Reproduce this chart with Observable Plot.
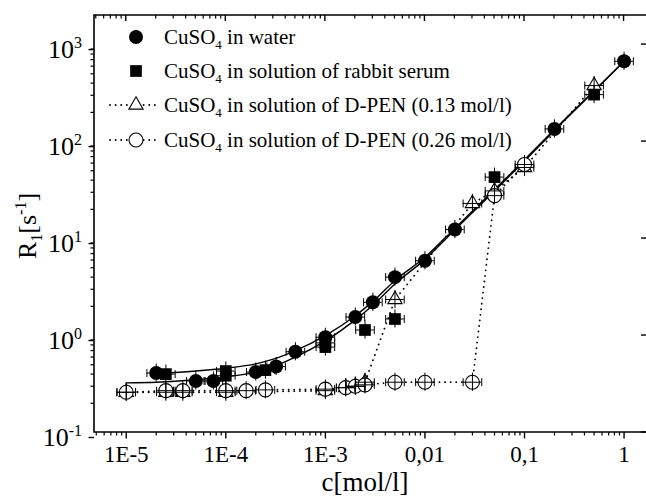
<!DOCTYPE html>
<html><head><meta charset="utf-8">
<script src="https://cdn.jsdelivr.net/npm/d3@7"></script>
<script src="https://cdn.jsdelivr.net/npm/@observablehq/plot@0.6"></script>
<style>
body{margin:0;background:#fff;overflow:hidden;}
#chart{width:646px;height:497px;}
svg{font-family:"Liberation Serif","Times New Roman",serif;}
</style></head><body><div id="chart"></div>
<script>
// ---------- data ----------
const waterC = [2e-5, 5e-5, 7.5e-5, 2e-4, 3.2e-4, 5e-4, 1e-3, 2e-3, 3e-3, 5e-3, 1e-2, 2e-2, 0.2, 1];
const waterR = [0.41, 0.34, 0.34, 0.42, 0.48, 0.68, 0.96, 1.55, 2.2, 4.0, 5.9, 12.4, 135, 673];
const serumC = [2.5e-5, 1e-4, 1e-4, 2.5e-4, 1e-3, 1e-3, 2.5e-3, 5e-3, 0.05, 0.5];
const serumR = [0.40, 0.385, 0.43, 0.44, 0.76, 0.84, 1.14, 1.48, 43, 305];
const pen13C = [1e-5, 2.5e-5, 3.7e-5, 1e-4, 1e-3, 1.6e-3, 2e-3, 2.5e-3, 5e-3, 0.03, 0.05, 0.1, 0.5];
const pen13R = [0.26, 0.26, 0.26, 0.26, 0.27, 0.29, 0.30, 0.33, 2.35, 23, 31, 54, 378];
const pen26C = [1e-5, 2.5e-5, 3.7e-5, 1e-4, 1.6e-4, 2.5e-4, 1e-3, 1.6e-3, 2e-3, 2.5e-3, 5e-3, 0.01, 0.03, 0.05, 0.1];
const pen26R = [0.26, 0.27, 0.27, 0.27, 0.27, 0.275, 0.28, 0.29, 0.30, 0.31, 0.33, 0.33, 0.33, 27.7, 58];
// fitted curves, read as points along the drawn lines
const fitUpperC = [2.5e-5, 5e-5, 1e-4, 2e-4, 3e-4, 5e-4, 1e-3, 2e-3, 3e-3, 5e-3, 1e-2, 2e-2, 5e-2, 0.1, 0.2, 0.5, 1];
const fitUpperR = [0.41, 0.43, 0.46, 0.51, 0.57, 0.70, 1.0, 1.6, 2.25, 3.7, 6.4, 12.8, 32, 65, 133, 335, 673];
const fitLowerC = [1e-5, 2e-5, 5e-5, 1e-4, 2e-4, 3e-4, 5e-4, 1e-3, 2e-3, 3e-3, 5e-3, 1e-2, 2e-2, 5e-2, 0.1, 0.2, 0.5, 1];
const fitLowerR = [0.325, 0.33, 0.35, 0.375, 0.42, 0.48, 0.60, 0.88, 1.45, 2.05, 3.4, 6.1, 12.3, 31, 63, 130, 330, 673];
// axes
const xTicks = [1e-5, 1e-4, 1e-3, 1e-2, 1e-1, 1];
const xTickLabels = ["1E-5", "1E-4", "1E-3", "0,01", "0,1", "1"];
const yTicks = [0.1, 1, 10, 100, 1000];
const yTickExp = ["-1", "0", "1", "2", "3"];
const xDomain = [4.8e-6, 1.68];
const yDomain = [0.1, 1995];
const seriesNames = ["CuSO4 in water", "CuSO4 in solution of rabbit serum",
  "CuSO4 in solution of D-PEN (0.13 mol/l)", "CuSO4 in solution of D-PEN (0.26 mol/l)"];

// ---------- build tables ----------
const zip = (C, R) => C.map((c, i) => ({c, R: R[i]}));
const water = zip(waterC, waterR), serum = zip(serumC, serumR);
const pen13 = zip(pen13C, pen13R), pen26 = zip(pen26C, pen26R);
const fitU = zip(fitUpperC, fitUpperR), fitL = zip(fitLowerC, fitLowerR);
const allPts = [...water, ...serum, ...pen13, ...pen26];

const minorOf = (lo, hi) => { const out = []; for (let e = lo; e <= hi; e++) for (let k = 2; k <= 9; k++) out.push(k * Math.pow(10, e)); return out; };
const xMinor = minorOf(-6, 0).filter(v => v >= xDomain[0] && v <= xDomain[1]);
const yMinor = minorOf(-1, 3).filter(v => v >= yDomain[0] && v <= yDomain[1]);

const ex = 1.24, ey = 1.24;
const capSym = {draw(ctx, size) { const h = Math.sqrt(size) / 2; ctx.moveTo(0, -h); ctx.lineTo(0, h); }};
const font = '"Liberation Serif","Times New Roman",serif';

const plot = Plot.plot({
  width: 646, height: 497,
  marginLeft: 94, marginRight: 0, marginTop: 15, marginBottom: 65,
  style: {fontFamily: font, background: "white", color: "black"},
  x: {type: "log", domain: xDomain},
  y: {type: "log", domain: yDomain},
  marks: [
    Plot.axisX({ticks: xMinor, tickSize: 3.5, tickFormat: () => "", label: null, strokeWidth: 1.2}),
    Plot.axisX({ticks: xTicks, tickSize: 6.5, tickPadding: 7, fontSize: 23, label: null, strokeWidth: 1.4,
      tickFormat: d => xTickLabels[xTicks.indexOf(d)]}),
    Plot.axisY({ticks: yMinor, tickSize: 3.5, tickFormat: () => "", label: null, strokeWidth: 1.2}),
    Plot.axisY({ticks: yTicks, tickSize: 5.5, tickPadding: 7, fontSize: 26, label: null, strokeWidth: 1.4, dy: 5,
      tickFormat: d => "10|" + yTickExp[yTicks.indexOf(d)]}),
    Plot.line(fitL, {x: "c", y: "R", curve: "monotone-x", stroke: "black", strokeWidth: 1.4}),
    Plot.line(fitU, {x: "c", y: "R", curve: "monotone-x", stroke: "black", strokeWidth: 1.4}),
    Plot.line(pen13, {x: "c", y: "R", stroke: "black", strokeWidth: 1.8, strokeDasharray: "0.1,5.5", strokeLinecap: "round"}),
    Plot.line(pen26, {x: "c", y: "R", stroke: "black", strokeWidth: 1.8, strokeDasharray: "0.1,5.5", strokeLinecap: "round"}),
    Plot.dot(pen13, {x: "c", y: "R", symbol: "triangle", r: 5.3, fill: "white", stroke: "black", strokeWidth: 1.1}),
    Plot.dot(pen26, {x: "c", y: "R", symbol: "circle", r: 7, fill: "white", stroke: "black", strokeWidth: 1.1}),
    Plot.dot(water, {x: "c", y: "R", symbol: "circle", r: 7, fill: "black"}),
    Plot.dot(serum, {x: "c", y: "R", symbol: "square", r: 6.6, fill: "black"}),
    Plot.ruleY(allPts, {y: "R", x1: d => d.c / ex, x2: d => d.c * ex, stroke: "black", strokeWidth: 1}),
    Plot.ruleX(allPts, {x: "c", y1: d => d.R / ey, y2: d => d.R * ey, stroke: "black", strokeWidth: 1}),
    Plot.dot(allPts, {x: d => d.c / ex, y: "R", symbol: capSym, r: 4.5, stroke: "black", strokeWidth: 1}),
    Plot.dot(allPts, {x: d => d.c * ex, y: "R", symbol: capSym, r: 4.5, stroke: "black", strokeWidth: 1})
  ]
});
document.getElementById("chart").appendChild(plot);

// ---------- post-processing: superscripts, frame, inward ticks, labels, legend ----------
const svg = d3.select(plot);
svg.selectAll('g[aria-label="y-axis tick label"] text').each(function() {
  const t = d3.select(this);
  const s = t.text();
  if (!s.includes("|")) return;
  const [base, sup] = s.split("|");
  t.text(null);
  t.append("tspan").text(base);
  t.append("tspan").attr("font-size", 16).attr("dy", "-10").text(sup);
});

const sx = plot.scale("x"), sy = plot.scale("y");
const [x0, x1] = sx.range, [y0, y1] = sy.range; // y0 bottom, y1 top
const g = svg.append("g").attr("stroke", "black").attr("fill", "none");
// frame: left, bottom, top (right edge lies just outside the picture)
g.append("path").attr("d", `M${x1 + 3},${y1}H${x0}V${y0}H${x1 + 3}`).attr("stroke-width", 1.6);
xMinor.forEach(v => { const X = sx.apply(v); g.append("line").attr("x1", X).attr("x2", X).attr("y1", y1).attr("y2", y1 + 3.5).attr("stroke-width", 1.2); });
xTicks.forEach(v => { const X = sx.apply(v); g.append("line").attr("x1", X).attr("x2", X).attr("y1", y1).attr("y2", y1 + 6).attr("stroke-width", 1.4); });
yTicks.forEach(v => { const Y = sy.apply(v); g.append("line").attr("x1", x1).attr("x2", x1 - 5).attr("y1", Y).attr("y2", Y).attr("stroke-width", 1.4); });

// axis titles
svg.append("text").attr("x", 365).attr("y", 491).attr("text-anchor", "middle")
  .attr("font-size", 27).attr("font-family", font).attr("fill", "black").text("c[mol/l]");
const yl = svg.append("text").attr("transform", "translate(36,226) rotate(-90)").attr("text-anchor", "middle")
  .attr("font-size", 26).attr("font-family", font).attr("fill", "black");
yl.append("tspan").text("R");
yl.append("tspan").attr("font-size", 16).attr("dy", 6).text("1");
yl.append("tspan").attr("dy", -6).text("[s");
yl.append("tspan").attr("font-size", 16).attr("dy", -10).text("-1");
yl.append("tspan").attr("dy", 10).text("]");

// legend
const legY = [37, 71, 105, 140];
const legSyms = [
  {type: d3.symbolCircle, size: Math.PI * 49, fill: "black", stroke: "none", dotted: false},
  {type: d3.symbolSquare, size: Math.PI * 6.6 * 6.6, fill: "black", stroke: "none", dotted: false},
  {type: d3.symbolTriangle, size: Math.PI * 5.3 * 5.3, fill: "white", stroke: "black", dotted: true},
  {type: d3.symbolCircle, size: Math.PI * 49, fill: "white", stroke: "black", dotted: true}
];
const leg = svg.append("g");
seriesNames.forEach((name, i) => {
  const y = legY[i], s = legSyms[i];
  if (s.dotted) leg.append("line").attr("x1", 110).attr("x2", 160).attr("y1", y).attr("y2", y)
    .attr("stroke", "black").attr("stroke-width", 1.8).attr("stroke-dasharray", "0.1,5.5").attr("stroke-linecap", "round");
  leg.append("path").attr("d", d3.symbol(s.type, s.size)()).attr("transform", `translate(136,${y})`)
    .attr("fill", s.fill).attr("stroke", s.stroke).attr("stroke-width", 1.1);
  const t = leg.append("text").attr("x", 164).attr("y", y + 7).attr("text-anchor", "start")
    .attr("font-size", 21).attr("font-family", font).attr("fill", "black");
  const rest = name.slice(5);
  t.append("tspan").text("CuSO");
  t.append("tspan").attr("font-size", 13).attr("dy", 5).text("4");
  t.append("tspan").attr("dy", -5).text(rest);
});
</script></body></html>
